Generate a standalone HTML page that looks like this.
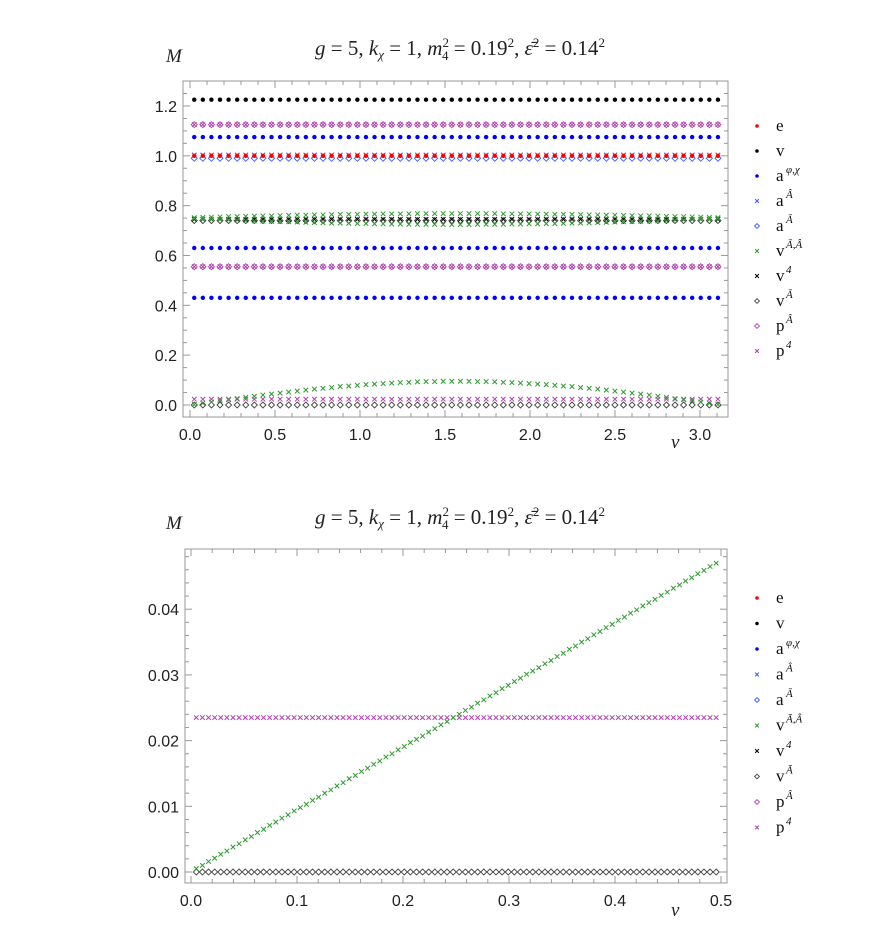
<!DOCTYPE html>
<html><head><meta charset="utf-8">
<style>
body{margin:0;background:#fff;width:872px;height:946px;overflow:hidden}
svg{display:block}
.tk{font-family:"Liberation Sans",sans-serif;font-size:16px;fill:#222}
.it{font-family:"Liberation Serif",serif;font-style:italic;font-size:19px;fill:#222}
.tt{font-family:"Liberation Serif",serif;font-size:21px;fill:#222}
.lg{font-family:"Liberation Serif",serif;font-size:17px;fill:#111}
.sup{font-family:"Liberation Serif",serif;font-size:11px;font-style:italic;fill:#111}
</style></head>
<body>
<svg id="chart" width="872" height="946" viewBox="0 0 872 946">
<text class="it" x="166" y="62">M</text>
<text class="tt" x="460" y="55" text-anchor="middle"><tspan font-style="italic">g</tspan> = 5,  <tspan font-style="italic">k</tspan><tspan font-size="13" font-style="italic" dy="4">χ</tspan><tspan dy="-4"> = 1,  </tspan><tspan font-style="italic">m</tspan><tspan font-size="13" dy="-8">2</tspan><tspan font-size="13" dx="-7" dy="13">4</tspan><tspan dy="-5"> = 0.19</tspan><tspan font-size="13" dy="-8">2</tspan><tspan dy="8">,  </tspan><tspan font-style="italic">ε̄</tspan><tspan font-size="13" dy="-8">2</tspan><tspan dy="8"> = 0.14</tspan><tspan font-size="13" dy="-8">2</tspan></text>
<text class="it" x="671" y="448">v</text>
<text class="it" x="166" y="529">M</text>
<text class="tt" x="460" y="524" text-anchor="middle"><tspan font-style="italic">g</tspan> = 5,  <tspan font-style="italic">k</tspan><tspan font-size="13" font-style="italic" dy="4">χ</tspan><tspan dy="-4"> = 1,  </tspan><tspan font-style="italic">m</tspan><tspan font-size="13" dy="-8">2</tspan><tspan font-size="13" dx="-7" dy="13">4</tspan><tspan dy="-5"> = 0.19</tspan><tspan font-size="13" dy="-8">2</tspan><tspan dy="8">,  </tspan><tspan font-style="italic">ε̄</tspan><tspan font-size="13" dy="-8">2</tspan><tspan dy="8"> = 0.14</tspan><tspan font-size="13" dy="-8">2</tspan></text>
<text class="it" x="671" y="916">v</text>
<g id="top"></g><g id="bot"></g>
</svg>
<script>
// ---------- data ----------
const topXTicks = [0.0, 0.5, 1.0, 1.5, 2.0, 2.5, 3.0];
const topYTicks = [0.0, 0.2, 0.4, 0.6, 0.8, 1.0, 1.2];
const botXTicks = [0.0, 0.1, 0.2, 0.3, 0.4, 0.5];
const botYTicks = [0.00, 0.01, 0.02, 0.03, 0.04];
const topCount = 62, topStart = 0.025, topStep = 0.0505;
const botCount = 86, botStart = 0.005, botStep = 0.00577;
// constant-level series (top plot)
const eLevels = [1.0];
const vLevels = [1.225];
const aPhiChiLevels = [1.075, 0.63, 0.43];
const aHatLevels = [1.003];
const aBarLevels = [0.99];
const v4Levels = [0.745];
const vBarLevels = [0.74, 0.0];
const pHatLevels = [1.125, 0.555];
const p4Levels = [1.125, 0.555, 0.0235];
// varying series (top plot)
const greenLow = [.002,.007,.012,.017,.021,.026,.031,.035,.040,.044,.048,.052,.056,.060,.064,.067,.070,.074,.076,.079,.082,.084,.086,.088,.090,.091,.093,.094,.094,.095,.095,.095,.095,.094,.094,.093,.091,.090,.088,.086,.084,.082,.079,.076,.074,.070,.067,.064,.060,.056,.052,.048,.044,.040,.035,.031,.026,.021,.017,.012,.007,.002];
const greenUpper = [.752,.753,.754,.755,.756,.756,.757,.758,.759,.759,.760,.761,.762,.762,.763,.763,.764,.765,.765,.765,.766,.766,.767,.767,.767,.767,.768,.768,.768,.768,.768,.768,.768,.768,.768,.768,.767,.767,.767,.767,.766,.766,.765,.765,.765,.764,.763,.763,.762,.762,.761,.760,.759,.759,.758,.757,.756,.756,.755,.754,.753,.752];
const greenLower = [.748,.746,.745,.744,.743,.742,.740,.739,.738,.737,.736,.735,.734,.733,.732,.731,.730,.730,.729,.728,.728,.727,.727,.726,.726,.725,.725,.725,.725,.724,.724,.724,.724,.725,.725,.725,.725,.726,.726,.727,.727,.728,.728,.729,.730,.730,.731,.732,.733,.734,.735,.736,.737,.738,.739,.740,.742,.743,.744,.745,.746,.748];
// bottom plot
const botGreen = [.0005,.0010,.0016,.0021,.0027,.0032,.0038,.0043,.0049,.0054,.0060,.0065,.0071,.0076,.0082,.0087,.0093,.0098,.0103,.0109,.0114,.0120,.0125,.0131,.0136,.0142,.0147,.0153,.0158,.0164,.0169,.0175,.0180,.0186,.0191,.0197,.0202,.0207,.0213,.0218,.0224,.0229,.0235,.0240,.0246,.0251,.0257,.0262,.0268,.0273,.0279,.0284,.0290,.0295,.0301,.0306,.0311,.0317,.0322,.0328,.0333,.0339,.0344,.0350,.0355,.0361,.0366,.0372,.0377,.0383,.0388,.0394,.0399,.0405,.0410,.0415,.0421,.0426,.0432,.0437,.0443,.0448,.0454,.0459,.0465,.0470];
const botP4Levels = [0.0235];
const botVBarLevels = [0.0];

const legendNames = ['e','v','a','a','a','v','v','v','p','p'];
const legendSups = ['','','φ,χ','Â','Ā','Ā,Â','4','Ā','Â','4'];
const legendMarks = ['dot','dot','dot','x','dia','x','x','dia','dia','x'];
const C = {red:'#ff0000',black:'#000',blue:'#0000ff',lblue:'#3a55ff',green:'#2f9a2f',purple:'#b040b0',gray:'#444'};
const legendColors = [C.red,C.black,C.blue,C.lblue,C.lblue,C.green,C.black,C.gray,C.purple,C.purple];

const NS='http://www.w3.org/2000/svg';
function mk(p,tag,at){const e=document.createElementNS(NS,tag);for(const k in at)e.setAttribute(k,at[k]);p.appendChild(e);return e;}
function marker(g,type,x,y,col,s){
  let e;
  if(type==='dot'){e=mk(g,'circle',{cx:x,cy:y,r:2.2*s,fill:col});}
  else if(type==='x'){const d=2.3*s;e=mk(g,'path',{d:`M${x-d},${y-d}L${x+d},${y+d}M${x-d},${y+d}L${x+d},${y-d}`,stroke:col,'stroke-width':1,fill:'none'});}
  else {const d=3*s;e=mk(g,'path',{d:`M${x},${y-d}L${x+d},${y}L${x},${y+d}L${x-d},${y}Z`,stroke:col,'stroke-width':0.9,fill:'none'});}
  return e;
}

function panel(g,o){
  const X=v=>o.x0+v*o.xs, Y=v=>o.y0-v*o.ys;
  const fr=mk(g,'rect',{x:o.L,y:o.T,width:o.R-o.L,height:o.B-o.T,fill:'none',stroke:'#999','stroke-width':1});
  
  
  for(let v=o.xmin;v<=o.xmax+1e-9;v+=o.xminor){const px=X(v);if(px<o.L||px>o.R)continue;
    const maj=Math.abs(v/o.xmajor-Math.round(v/o.xmajor))<1e-6;const l=maj?7:4;
    mk(g,'line',{x1:px,x2:px,y1:o.B,y2:o.B-l,stroke:'#999'});mk(g,'line',{x1:px,x2:px,y1:o.T,y2:o.T+l,stroke:'#999'});}
  for(let v=o.ymin;v<=o.ymax+1e-9;v+=o.yminor){const py=Y(v);if(py<o.T||py>o.B)continue;
    const maj=Math.abs(v/o.ymajor-Math.round(v/o.ymajor))<1e-6;const l=maj?7:4;
    mk(g,'line',{x1:o.L,x2:o.L+l,y1:py,y2:py,stroke:'#999'});mk(g,'line',{x1:o.R,x2:o.R-l,y1:py,y2:py,stroke:'#999'});}
  o.xt.forEach(v=>{const t=mk(g,'text',{x:X(v),y:o.B+23,'text-anchor':'middle',class:'tk'});t.textContent=v.toFixed(1);
    
    });
  o.yt.forEach(v=>{const t=mk(g,'text',{x:o.L-6,y:Y(v)+6,'text-anchor':'end',class:'tk'});t.textContent=v.toFixed(o.yd);
    
    });
  const xs=i=>o.start+i*o.step;
  function levels(name,lv,type,col){lv.forEach(val=>{const sg=mk(g,'g',{});
    
    
    for(let i=0;i<o.n;i++)marker(sg,type,X(xs(i)),Y(val),col,1);});}
  function arr(name,a,type,col){const sg=mk(g,'g',{});
    
    
    a.forEach((val,i)=>marker(sg,type,X(xs(i)),Y(val),col,1));}
  o.draw(levels,arr);
  legendNames.forEach((n,i)=>{const lg=mk(g,'g',{});
    
    
    const y=o.ly+i*o.lstep;marker(lg,legendMarks[i],757,y,legendColors[i],0.8);
    const t=mk(lg,'text',{x:776,y:y+5,class:'lg'});t.textContent=n;
    if(legendSups[i]){const s=mk(lg,'text',{x:786,y:y-3,class:'sup'});s.textContent=legendSups[i];}
  });
}

panel(document.getElementById('top'),{id:'top',L:183,R:728,T:81,B:417,x0:190,xs:170,y0:405,ys:249.2,
  xmin:0,xmax:3.2,xminor:0.1,xmajor:0.5,ymin:0,ymax:1.3,yminor:0.05,ymajor:0.2,xt:topXTicks,yt:topYTicks,yd:1,
  n:topCount,start:topStart,step:topStep,ly:126,lstep:25,
  draw:(levels,arr)=>{
    levels('v-black-dots',vLevels,'dot',C.black);
    levels('p-hat-diamonds',pHatLevels,'dia',C.purple);
    levels('p4-crosses',p4Levels,'x',C.purple);
    levels('a-phi-chi-dots',aPhiChiLevels,'dot',C.blue);
    levels('a-bar-diamonds',aBarLevels,'dia',C.lblue);
    levels('a-hat-crosses',aHatLevels,'x',C.lblue);
    levels('e-red-dots',eLevels,'dot',C.red);
    levels('v-bar-diamonds',vBarLevels,'dia',C.gray);
    levels('v4-crosses',v4Levels,'x',C.black);
    arr('green-upper',greenUpper,'x',C.green);
    arr('green-lower',greenLower,'x',C.green);
    arr('green-low',greenLow,'x',C.green);
  }});
panel(document.getElementById('bot'),{id:'bottom',L:185,R:727,T:549,B:883,x0:191,xs:1060,y0:872,ys:6570,
  xmin:0,xmax:0.52,xminor:0.02,xmajor:0.1,ymin:0,ymax:0.05,yminor:0.002,ymajor:0.01,xt:botXTicks,yt:botYTicks,yd:2,
  n:botCount,start:botStart,step:botStep,ly:598,lstep:25.5,
  draw:(levels,arr)=>{
    levels('v-bar-diamonds',botVBarLevels,'dia',C.gray);
    levels('p4-crosses',botP4Levels,'x',C.purple);
    arr('green-crosses',botGreen,'x',C.green);
  }});
</script>
</body></html>
